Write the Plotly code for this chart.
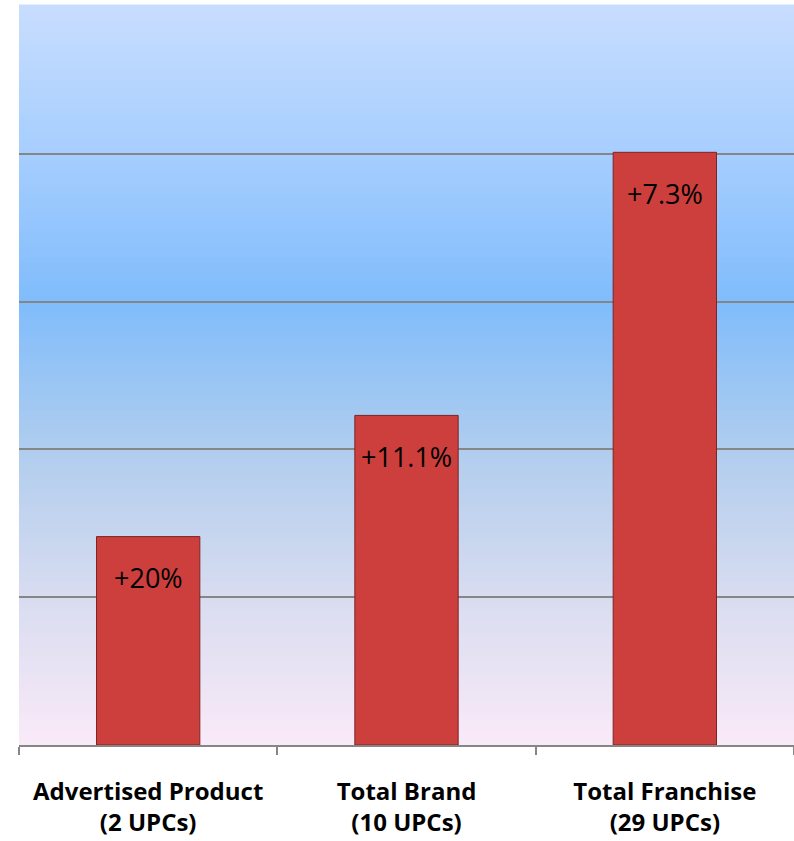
import plotly.graph_objects as go

categories = ["Advertised Product<br>(2 UPCs)", "Total Brand<br>(10 UPCs)", "Total Franchise<br>(29 UPCs)"]
values = [1.41, 2.23, 4.01]
labels = ["+20%", "+11.1%", "+7.3%"]

# background gradient stops (fraction from bottom, rgb)
grad_stops = [(0.0, (250, 234, 248)), (0.2, (216, 220, 240)), (0.4, (176, 205, 238)),
              (0.6, (128, 188, 252)), (0.8, (166, 206, 254)), (1.0, (200, 221, 254))]

def grad_color(f):
    for (f0, c0), (f1, c1) in zip(grad_stops[:-1], grad_stops[1:]):
        if f0 <= f <= f1:
            t = (f - f0) / (f1 - f0)
            return "rgb(%d,%d,%d)" % tuple(round(a + (b - a) * t) for a, b in zip(c0, c1))
    return "rgb(%d,%d,%d)" % grad_stops[-1][1]

shapes = []
n = 150
for i in range(n):
    f0 = i / n
    f1 = (i + 1) / n
    shapes.append(dict(type="rect", xref="x domain", yref="y domain", x0=0, x1=1,
                       y0=f0, y1=f1 + 0.002, fillcolor=grad_color((f0 + f1) / 2),
                       line=dict(width=0), layer="below"))

fig = go.Figure()
fig.add_trace(go.Bar(
    x=categories, y=values, width=0.4,
    marker=dict(color="#cc3f3d", line=dict(color="#7d2424", width=1)),
    hoverinfo="skip",
))

for c, v, t in zip(categories, values, labels):
    fig.add_annotation(x=c, y=v, text=t, showarrow=False, yanchor="middle", yshift=-41,
                       font=dict(family="Open Sans, Liberation Sans, sans-serif", size=27, color="#000000"))

fig.update_layout(
    width=794, height=841,
    margin=dict(l=19, r=0, t=6, b=96),
    paper_bgcolor="white", plot_bgcolor="rgba(0,0,0,0)",
    showlegend=False, shapes=shapes,
    font=dict(family="Open Sans, Liberation Sans, sans-serif"),
)
fig.update_yaxes(range=[0, 5], dtick=1, showticklabels=False, showgrid=True,
                 gridcolor="#868686", gridwidth=1.5, zeroline=False, showline=False, fixedrange=True)
fig.update_xaxes(showline=True, linecolor="#868686", linewidth=1.5, ticks="outside",
                 tickson="boundaries", ticklen=8, tickcolor="#868686", tickwidth=1.5,
                 tickfont=dict(family="Open Sans, Liberation Sans, sans-serif", size=24, color="#000000", weight="bold"),
                 ticklabelstandoff=24)

fig.write_html("out.html")
